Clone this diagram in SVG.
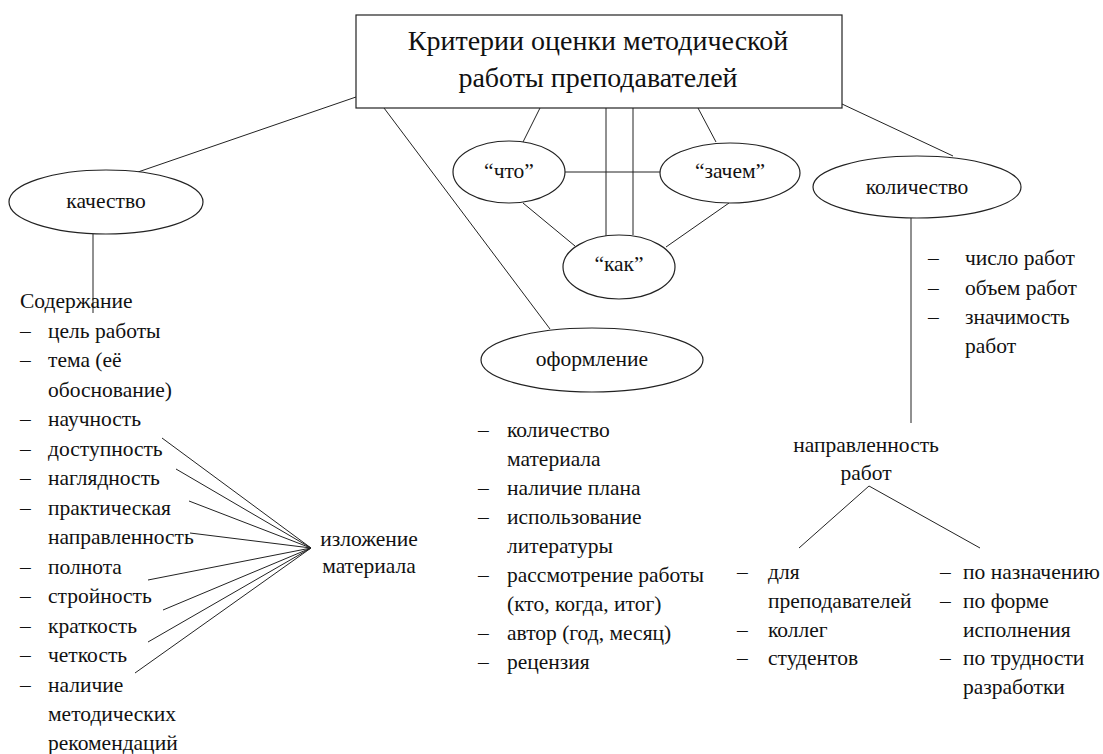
<svg xmlns="http://www.w3.org/2000/svg" width="1103" height="754" viewBox="0 0 1103 754" font-family="Liberation Serif, Times New Roman, serif">
<style>
text{font-size:21.5px;fill:#111}
.t{font-size:28px}
.m{text-anchor:middle}
.s{fill:none;stroke:#222;stroke-width:1}
.e{fill:#fff;stroke:#222;stroke-width:1.2}
</style>
<rect width="1103" height="754" fill="#fff"/>
<g id="connectors" class="s">
<line x1="356" y1="97" x2="138" y2="172"/>
<line x1="384" y1="108" x2="550" y2="329"/>
<line x1="540" y1="108" x2="523" y2="142"/>
<line x1="606" y1="108" x2="606" y2="236"/>
<line x1="633" y1="108" x2="633" y2="235"/>
<line x1="698" y1="108" x2="716" y2="142"/>
<line x1="842" y1="104" x2="953" y2="156"/>
<line x1="565" y1="172" x2="661" y2="172"/>
<line x1="523" y1="203" x2="575" y2="246"/>
<line x1="729" y1="203" x2="666" y2="247"/>
<line x1="93" y1="234" x2="93" y2="313"/>
<line x1="911" y1="218" x2="911" y2="423"/>
<line x1="869" y1="486" x2="799" y2="548"/>
<line x1="869" y1="486" x2="980" y2="548"/>
<line x1="162" y1="438" x2="311" y2="548"/>
<line x1="176" y1="469" x2="311" y2="548"/>
<line x1="189" y1="501" x2="311" y2="548"/>
<line x1="190" y1="533" x2="311" y2="548"/>
<line x1="148" y1="580" x2="311" y2="548"/>
<line x1="163" y1="610" x2="311" y2="548"/>
<line x1="148" y1="642" x2="311" y2="548"/>
<line x1="135" y1="673" x2="311" y2="548"/>
</g>
<g id="title">
<rect x="356" y="15" width="486" height="93" fill="#fff" stroke="#222" stroke-width="1.2"/>
<text class="t m" x="598" y="50">Критерии оценки методической</text>
<text class="t m" x="598" y="87">работы преподавателей</text>
</g>
<g id="kachestvo">
<ellipse class="e" cx="106" cy="202" rx="97" ry="32"/>
<text class="m" x="106" y="208">качество</text>
</g>
<g id="chto">
<ellipse class="e" cx="509" cy="172" rx="56" ry="31"/>
<text class="m" x="509" y="178">“что”</text>
</g>
<g id="zachem">
<ellipse class="e" cx="730" cy="173" rx="70" ry="30"/>
<text class="m" x="730" y="178">“зачем”</text>
</g>
<g id="kak">
<ellipse class="e" cx="619" cy="267" rx="56" ry="32"/>
<text class="m" x="619" y="271">“как”</text>
</g>
<g id="oformlenie">
<ellipse class="e" cx="592" cy="360" rx="111" ry="32"/>
<text class="m" x="592" y="366">оформление</text>
</g>
<g id="kolichestvo">
<ellipse class="e" cx="917" cy="187" rx="104" ry="31"/>
<text class="m" x="917" y="194">количество</text>
</g>
<g id="soderzhanie">
<text x="20" y="308">Содержание</text>
<text x="20" y="337.5">–</text><text x="48" y="337.5">цель работы</text>
<text x="20" y="367">–</text><text x="48" y="367">тема (её</text>
<text x="48" y="396.5">обоснование)</text>
<text x="20" y="426">–</text><text x="48" y="426">научность</text>
<text x="20" y="455.5">–</text><text x="48" y="455.5">доступность</text>
<text x="20" y="485">–</text><text x="48" y="485">наглядность</text>
<text x="20" y="514.5">–</text><text x="48" y="514.5">практическая</text>
<text x="48" y="544">направленность</text>
<text x="20" y="573.5">–</text><text x="48" y="573.5">полнота</text>
<text x="20" y="603">–</text><text x="48" y="603">стройность</text>
<text x="20" y="632.5">–</text><text x="48" y="632.5">краткость</text>
<text x="20" y="662">–</text><text x="48" y="662">четкость</text>
<text x="20" y="691.5">–</text><text x="48" y="691.5">наличие</text>
<text x="48" y="721">методических</text>
<text x="48" y="750">рекомендаций</text>
</g>
<g id="izlozhenie">
<text class="m" x="369" y="546">изложение</text>
<text class="m" x="369" y="573">материала</text>
</g>
<g id="oformlenie-list">
<text x="478" y="437">–</text><text x="507" y="437">количество</text>
<text x="507" y="466">материала</text>
<text x="478" y="495">–</text><text x="507" y="495">наличие плана</text>
<text x="478" y="524">–</text><text x="507" y="524">использование</text>
<text x="507" y="553">литературы</text>
<text x="478" y="582">–</text><text x="507" y="582">рассмотрение работы</text>
<text x="507" y="611">(кто, когда, итог)</text>
<text x="478" y="640">–</text><text x="507" y="640">автор (год, месяц)</text>
<text x="478" y="669">–</text><text x="507" y="669">рецензия</text>
</g>
<g id="kolichestvo-list">
<text x="928" y="265">–</text><text x="965" y="265">число работ</text>
<text x="928" y="294.5">–</text><text x="965" y="294.5">объем работ</text>
<text x="928" y="324">–</text><text x="965" y="324">значимость</text>
<text x="965" y="353">работ</text>
</g>
<g id="napravlennost">
<text class="m" x="866" y="452">направленность</text>
<text class="m" x="866" y="480">работ</text>
</g>
<g id="dlya-list">
<text x="737" y="579">–</text><text x="768" y="579">для</text>
<text x="768" y="608">преподавателей</text>
<text x="737" y="636.5">–</text><text x="768" y="636.5">коллег</text>
<text x="737" y="665">–</text><text x="768" y="665">студентов</text>
</g>
<g id="po-list">
<text x="940" y="579">–</text><text x="963" y="579">по назначению</text>
<text x="940" y="608">–</text><text x="963" y="608">по форме</text>
<text x="963" y="636.5">исполнения</text>
<text x="940" y="665">–</text><text x="963" y="665">по трудности</text>
<text x="963" y="694">разработки</text>
</g>
</svg>
